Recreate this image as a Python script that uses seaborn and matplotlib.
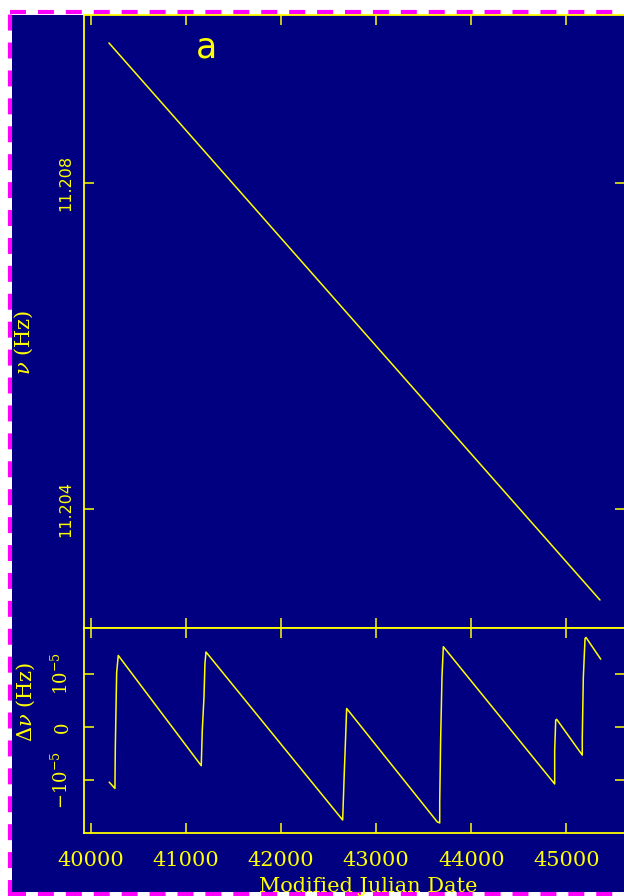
import matplotlib
matplotlib.use("Agg")
import matplotlib.pyplot as plt
import seaborn as sns
import pandas as pd
from matplotlib.lines import Line2D
from matplotlib.patches import Rectangle

# ---------------- data ----------------
nu_mjd = [40192, 41000, 42000, 43000, 44000, 45000, 45352]
nu_hz = [11.209711, 11.208643, 11.207321, 11.205999, 11.204677, 11.203355, 11.202890]

dnu_mjd = [40195, 40255, 40259, 40273, 40290,
           41162, 41173, 41191, 41201, 41212,
           42648, 42665, 42680, 42690,
           43642, 43668, 43668, 43678, 43692, 43706,
           44876, 44876, 44887, 44897,
           45166, 45166, 45177, 45195, 45205,
           45360]
dnu_hz = [-1.04e-5, -1.16e-5, -0.40e-5, 1.02e-5, 1.35e-5,
          -0.73e-5, -0.06e-5, 0.57e-5, 1.20e-5, 1.415e-5,
          -1.755e-5, -0.87e-5, -0.15e-5, 0.35e-5,
          -1.79e-5, -1.81e-5, -1.41e-5, -0.21e-5, 0.96e-5, 1.515e-5,
          -1.075e-5, -0.45e-5, 0.13e-5, 0.145e-5,
          -0.53e-5, -0.21e-5, 0.93e-5, 1.67e-5, 1.69e-5,
          1.28e-5]

x_ticks = [40000, 41000, 42000, 43000, 44000, 45000]
x_ticklabels = ["40000", "41000", "42000", "43000", "44000", "45000"]
nu_ticks = [11.204, 11.208]
nu_ticklabels = ["11.204", "11.208"]
dnu_ticks = [-1e-5, 0, 1e-5]
dnu_ticklabels = [r"$-10^{-5}$", "0", r"$10^{-5}$"]

NAVY = "#000080"
YEL = "#ffff00"
MAG = "#ff00ff"

sns.set_style("ticks")
plt.rcParams["mathtext.fontset"] = "dejavuserif"
plt.rcParams["lines.scale_dashes"] = False

W, H = 624, 896
fig = plt.figure(figsize=(W / 100, H / 100), dpi=100)
fig.patch.set_facecolor("white")
fig.patches.append(Rectangle((12 / W, 4 / H), (W - 12) / W, (892 - 15) / H,
                             transform=fig.transFigure, facecolor=NAVY,
                             edgecolor="none", zorder=-10))

left = 84 / W
width = (625 - 84) / W
ax1 = fig.add_axes([left, (H - 628) / H, width, (628 - 14.5) / H])
ax2 = fig.add_axes([left, (H - 833) / H, width, (833 - 628) / H])

df_nu = pd.DataFrame({"mjd": nu_mjd, "nu": nu_hz})
df_dnu = pd.DataFrame({"mjd": dnu_mjd, "dnu": dnu_hz})

sns.lineplot(data=df_nu, x="mjd", y="nu", ax=ax1, color=YEL, lw=1.1,
             sort=False, estimator=None)
sns.lineplot(data=df_dnu, x="mjd", y="dnu", ax=ax2, color=YEL, lw=1.1,
             sort=False, estimator=None)

for ax in (ax1, ax2):
    ax.set_facecolor(NAVY)
    ax.set_xlim(39930, 45615)
    for s in ax.spines.values():
        s.set_color(YEL)
        s.set_linewidth(1.3)
    ax.set_xticks(x_ticks)
    ax.tick_params(axis="both", which="major", direction="in", length=7,
                   width=1.1, color=YEL, top=True, right=True,
                   labelcolor=YEL)
    ax.set_xlabel("")
    ax.set_ylabel("")

ax1.set_ylim(11.202547, 11.210059)
ax1.set_yticks(nu_ticks)
ax1.set_yticklabels(nu_ticklabels, rotation=90, va="center",
                    family="DejaVu Sans", fontsize=11.5)
ax1.tick_params(axis="y", pad=8)
ax1.tick_params(axis="x", labelbottom=False)

ax2.set_ylim(-2.0e-5, 1.868e-5)
ax2.set_yticks(dnu_ticks)
ax2.set_yticklabels(dnu_ticklabels, rotation=90, va="center",
                    family="DejaVu Serif", fontsize=13)
ax2.tick_params(axis="y", pad=9)
ax2.set_xticklabels(x_ticklabels, family="DejaVu Serif", fontsize=15)
ax2.tick_params(axis="x", pad=13)

fig.text(24 / W, 1 - 342 / H, r"$\nu$ (Hz)", rotation=90, ha="center",
         va="center", color=YEL, family="DejaVu Serif", fontsize=15)
fig.text(26 / W, 1 - 702 / H, r"$\Delta\nu$ (Hz)", rotation=90, ha="center",
         va="center", color=YEL, family="DejaVu Serif", fontsize=15)
fig.text(368 / W, 1 - 877 / H, "Modified Julian Date", ha="center",
         va="top", color=YEL, family="DejaVu Serif", fontsize=15)
fig.text(206 / W, 1 - 57 / H, "a", ha="center", va="baseline",
         color=YEL, family="DejaVu Sans", fontsize=25)

# magenta dashed frame
dash = (0, (11.5, 8.6))
fig.add_artist(Line2D([10 / W, 10 / W], [0, 1 - 12.5 / H], transform=fig.transFigure,
                      color=MAG, lw=3, linestyle=dash))
fig.add_artist(Line2D([10 / W, 1], [1 - 12.5 / H, 1 - 12.5 / H], transform=fig.transFigure,
                      color=MAG, lw=3, linestyle=dash))
fig.add_artist(Line2D([10 / W, 1], [2 / H, 2 / H], transform=fig.transFigure,
                      color=MAG, lw=3, linestyle=dash))

fig.savefig("out.png", dpi=100, facecolor=fig.get_facecolor())
